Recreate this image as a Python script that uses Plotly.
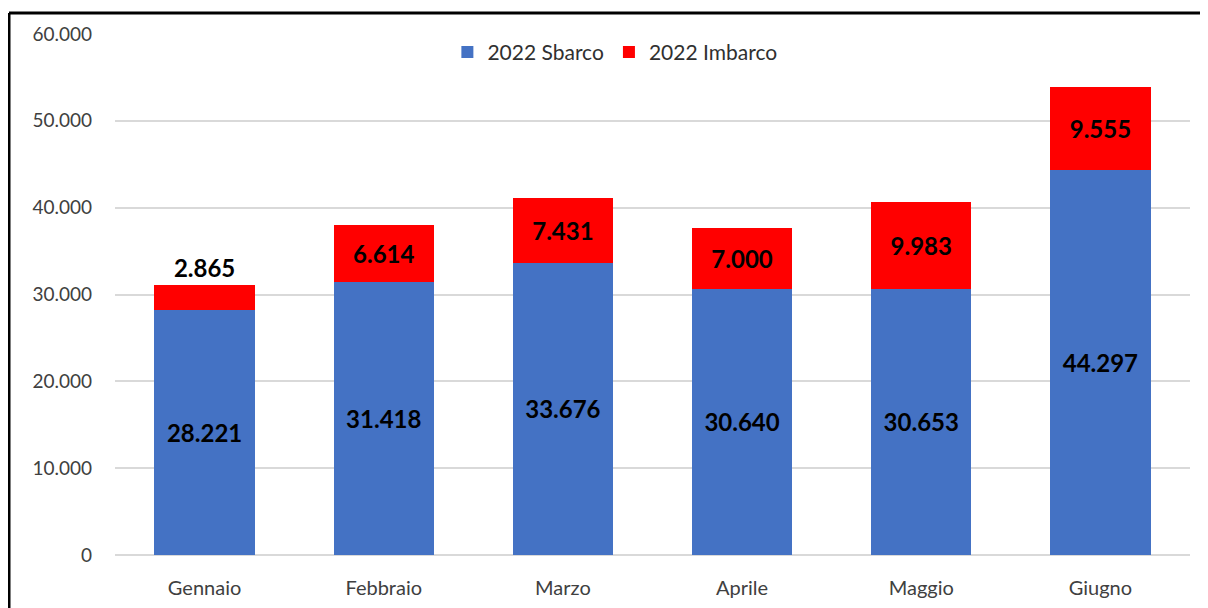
import plotly.graph_objects as go

months = ["Gennaio", "Febbraio", "Marzo", "Aprile", "Maggio", "Giugno"]
sbarco = [28221, 31418, 33676, 30640, 30653, 44297]
imbarco = [2865, 6614, 7431, 7000, 9983, 9555]
y_ticks = [0, 10000, 20000, 30000, 40000, 50000, 60000]

FONT = "Lato, 'Open Sans', sans-serif"

fig = go.Figure()
fig.add_trace(go.Bar(
    x=months, y=sbarco, name="2022 Sbarco",
    marker=dict(color="#4472C4", line=dict(width=0)),
    texttemplate="%{y:,d}", textposition="inside", insidetextanchor="middle",
    textfont=dict(family=FONT, size=24, color="black", weight="bold"),
))
fig.add_trace(go.Bar(
    x=months, y=imbarco, name="2022 Imbarco",
    marker=dict(color="#FF0000", line=dict(width=0)),
    texttemplate="%{y:,d}",
    textposition=["outside"] + ["inside"] * (len(months) - 1),
    insidetextanchor="middle",
    textfont=dict(family=FONT, size=24, color="black", weight="bold"),
    cliponaxis=False,
))

fig.update_layout(
    barmode="stack",
    bargap=0.44,
    width=1200, height=600,
    margin=dict(l=107, r=18, t=26, b=53),
    paper_bgcolor="white", plot_bgcolor="white",
    separators=",.",
    font=dict(family=FONT, size=19, color="#404040"),
    uniformtext=dict(minsize=24, mode="show"),
    legend=dict(orientation="h", x=0.465, xanchor="center", y=0.965, yanchor="middle",
                font=dict(size=21, color="#303030"), itemwidth=30, traceorder="normal",
                bgcolor="rgba(0,0,0,0)"),
    xaxis=dict(showgrid=False, showline=False, ticks="", tickfont=dict(size=20),
               ticklabelstandoff=19, automargin=False),
    yaxis=dict(range=[0, 60000], tickvals=y_ticks, tickformat=",d",
               showgrid=True, gridcolor="#d9d9d9", gridwidth=1.5,
               zeroline=True, zerolinecolor="#d9d9d9", zerolinewidth=1.5,
               showline=False, ticks="", ticklabelstandoff=22, tickfont=dict(size=19),
               automargin=False),
    shapes=[
        dict(type="line", xref="paper", yref="paper", x0=-0.0986, x1=1.03, y0=1.0403, y1=1.0403,
             line=dict(color="black", width=3)),
        dict(type="line", xref="paper", yref="paper", x0=-0.0986, x1=-0.0986, y0=1.0403, y1=-0.11,
             line=dict(color="black", width=3)),
    ],
)

fig.write_html("out.html")
